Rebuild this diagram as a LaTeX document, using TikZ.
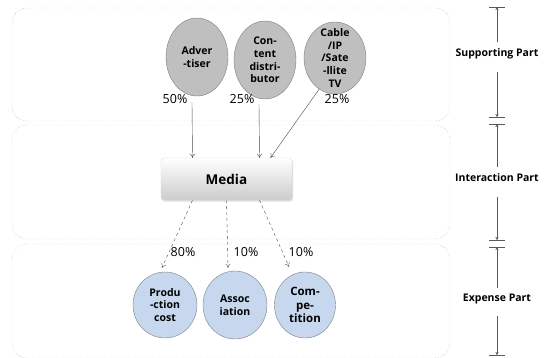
\documentclass[tikz,border=0pt]{standalone}
\usepackage{fontspec}
\setmainfont{Open Sans}
\usepackage{tikz}
\usetikzlibrary{shapes, positioning, arrows.meta, calc, shadows}

\definecolor{ballgray}{HTML}{BFBFBF}
\definecolor{ballblue}{HTML}{C6D7EE}
\definecolor{edgegray}{HTML}{7F7F7F}

\begin{document}
\begin{tikzpicture}[
    x=1pt, y=-1pt,
    every node/.style={inner sep=0pt},
    band/.style={draw=gray, dotted, rounded corners=15pt},
    ball/.style={ellipse, draw=edgegray, minimum width=62pt, minimum height=78pt},
    balltext/.style={align=center, font=\bfseries\fontsize{10.5}{12.7}\selectfont},
    pct/.style={font=\fontsize{12.5}{14}\selectfont},
    parttext/.style={font=\bfseries\fontsize{10.5}{12}\selectfont, inner ysep=6pt, text depth=9pt},
    >={To[length=4pt, width=5pt]}
]
\useasboundingbox (0,0) rectangle (547,357);

% Three bands
\draw[band] (12,8) rectangle (450,121);
\draw[band] (12,125) rectangle (450,239);
\draw[band] (12,244) rectangle (450,358);

% Supporting part
\node[ball, fill=ballgray, label={[balltext]center:Adver\\-tiser}] (adv) at (197,57) {};
\node[ball, fill=ballgray, label={[balltext]center:Con-\\tent\\distri-\\butor}] (con) at (265,60) {};
\node[ball, fill=ballgray, minimum height=72pt, label={[balltext]center:Cable\\/IP\\/Sate\\-llite\\TV}] (cab) at (335,58) {};

\node[pct] (p50) at (175,99) {50\%};
\node[pct] (p25a) at (242,99) {25\%};
\node[pct] (p25b) at (337,99) {25\%};

% Interaction part
\node[rectangle, rounded corners=3pt, draw=gray!30, top color=white, bottom color=gray!40,
      drop shadow={opacity=0.25, shadow xshift=1pt, shadow yshift=-1.5pt},
      minimum width=131pt, minimum height=42pt, font=\bfseries\fontsize{13.5}{15}\selectfont]
      (med) at (226.5,179) {Media};

\draw[->, gray!60!black] ($(adv.south)+(-5,6)$) -- ($(med.north)+(-34,0)$);
\draw[->, gray!60!black] ($(con.south)+(-6,5)$) -- ($(med.north)+(33,0)$);
\draw[->, gray!60!black, thin] (cab.243) -- ($(med.north)+(44,0)$);

% Expense part
\node[ball, fill=ballblue, minimum width=64pt, minimum height=66pt, label={[balltext]center:Produ\\-ction\\cost}] (prod) at (165,305) {};
\node[ball, fill=ballblue, minimum width=64pt, minimum height=68pt, label={[balltext]center:Assoc\\iation}] (ass) at (235,305) {};
\node[ball, fill=ballblue, minimum width=61pt, minimum height=66pt, label={[balltext, font=\bfseries\fontsize{11.5}{13.5}\selectfont]center:Com-\\pe-\\tition}] (comp) at (305,305) {};

\node[pct] (p80) at (183,252) {80\%};
\node[pct] (p10a) at (246,252) {10\%};
\node[pct] (p10b) at (301,252) {10\%};

\draw[->, dashed, gray!60!black, thin] ($(med.south)+(-34,0)$) -- ($(prod.north)+(-3,-4)$);
\draw[->, dashed, gray!60!black, thin] (med.south) -- ($(ass.north)+(-7,-3)$);
\draw[->, dashed, gray!60!black, thin] ($(med.south)+(33,0)$) -- ($(comp.north)+(-16,-5)$);

% Part markers on the right
\coordinate (supT) at (497,7);
\coordinate (supB) at (497,117);
\coordinate (intT) at (497,124);
\coordinate (intB) at (497,240);
\coordinate (expT) at (497,247);
\coordinate (expB) at (497,355);
\foreach \c in {supT, supB, intT, intB, expT, expB}
    \draw[gray!70!black] ($(\c)+(-8,0)$) -- ($(\c)+(8,0)$);

\node[parttext] (sup) at (497,57) {Supporting Part};
\node[parttext] (int) at (497,182) {Interaction Part};
\node[parttext] (exp) at (497,302) {Expense Part};

\draw[-{Stealth[length=3pt, width=3pt]}, gray!70!black] (sup) -- (supT);
\draw[-{Stealth[length=3pt, width=3pt]}, gray!70!black] (sup) -- (supB);
\draw[-{Stealth[length=3pt, width=3pt]}, gray!70!black] (int) -- (intT);
\draw[-{Stealth[length=3pt, width=3pt]}, gray!70!black] (int) -- (intB);
\draw[-{Stealth[length=3pt, width=3pt]}, gray!70!black] (exp) -- (expT);
\draw[-{Stealth[length=3pt, width=3pt]}, gray!70!black] (exp) -- (expB);

\end{tikzpicture}
\end{document}
